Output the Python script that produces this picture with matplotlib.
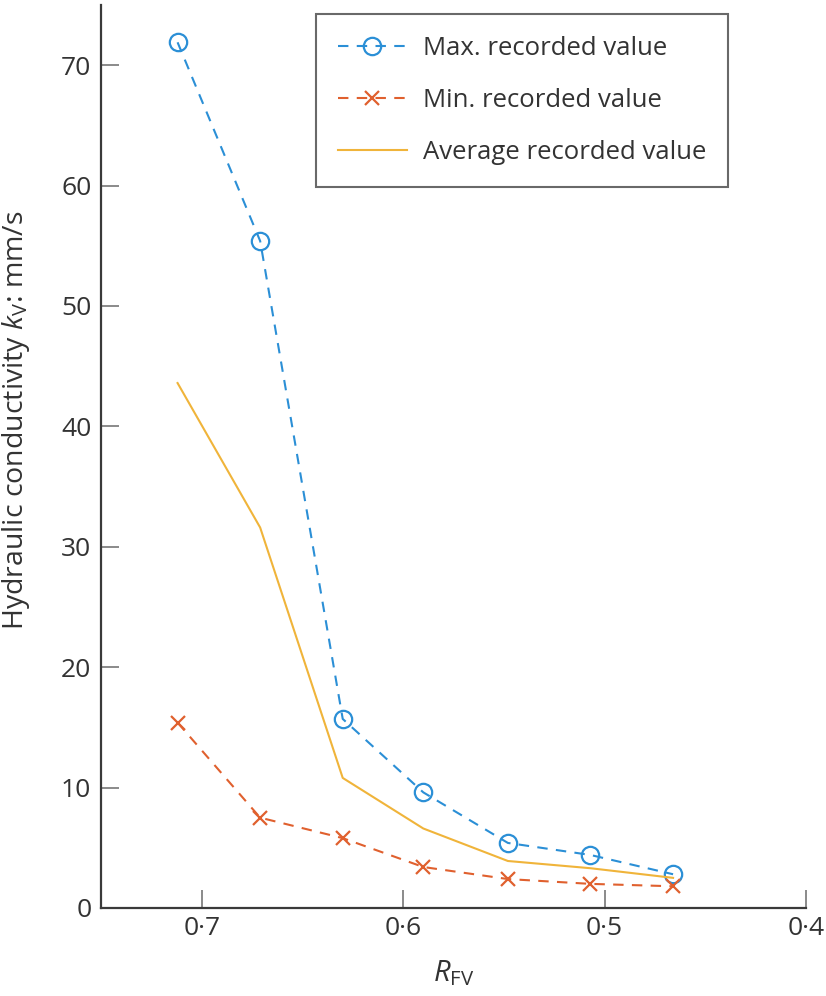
import matplotlib
matplotlib.use("Agg")
import matplotlib.pyplot as plt

plt.rcParams['font.family'] = ['Open Sans', 'DejaVu Sans']
plt.rcParams['mathtext.fontset'] = 'custom'
plt.rcParams['mathtext.rm'] = 'Open Sans'
plt.rcParams['mathtext.it'] = 'Open Sans:italic'

r_fv = [0.712, 0.671, 0.630, 0.590, 0.548, 0.507, 0.466]
k_max = [71.9, 55.4, 15.7, 9.6, 5.4, 4.4, 2.8]
k_min = [15.4, 7.5, 5.8, 3.4, 2.4, 2.0, 1.8]
k_avg = [43.6, 31.6, 10.8, 6.6, 3.9, 3.3, 2.5]

x_ticks = [0.7, 0.6, 0.5, 0.4]
x_tick_labels = ['0·7', '0·6', '0·5', '0·4']
y_ticks = [0, 10, 20, 30, 40, 50, 60, 70]

c_blue = '#2b8fd6'
c_red = '#e0602e'
c_yel = '#f0b43a'
c_ax = '#3a3a3a'

fig = plt.figure(figsize=(8.26, 9.96), dpi=100)
ax = fig.add_axes([0.1223, 0.0884, 0.8535, 0.9066])

ax.plot(r_fv, k_max, linestyle=(0, (5, 4)), color=c_blue, lw=1.5, marker='o',
        ms=12.5, mfc='none', mew=1.6, label='Max. recorded value')
ax.plot(r_fv, k_min, linestyle=(0, (5, 4)), color=c_red, lw=1.5, marker='x',
        ms=10, mew=1.6, label='Min. recorded value')
ax.plot(r_fv, k_avg, linestyle='-', color=c_yel, lw=1.5, label='Average recorded value')

ax.set_xlim(0.75, 0.4)
ax.set_ylim(0, 75)
ax.set_xticks(x_ticks)
ax.set_xticklabels(x_tick_labels)
ax.set_yticks(y_ticks)

for s in ['top', 'right']:
    ax.spines[s].set_visible(False)
for s in ['left', 'bottom']:
    ax.spines[s].set_color(c_ax)
    ax.spines[s].set_linewidth(1.6)

ax.tick_params(direction='in', length=13, width=1.2, color='#777777',
               labelsize=19, labelcolor='#333333')
ax.tick_params(axis='y', pad=7)
ax.tick_params(axis='x', pad=6)

ax.set_ylabel(r'Hydraulic conductivity $\mathit{k}_{\mathrm{V}}$: mm/s', fontsize=20.5,
              color='#333333')
ax.yaxis.set_label_coords(-0.098, 0.54)
ax.set_xlabel(r'$\mathit{R}_{\mathrm{FV}}$', fontsize=21, color='#333333', labelpad=12)

leg = ax.legend(loc='upper right', bbox_to_anchor=(0.889, 0.99), fontsize=18.5,
                frameon=True, fancybox=False, edgecolor='#444444',
                handlelength=2.7, labelspacing=1.05, borderpad=0.85,
                handletextpad=0.6, borderaxespad=0)
leg.get_frame().set_linewidth(1.5)
for t in leg.get_texts():
    t.set_color('#333333')

fig.savefig('out.png', dpi=100)
